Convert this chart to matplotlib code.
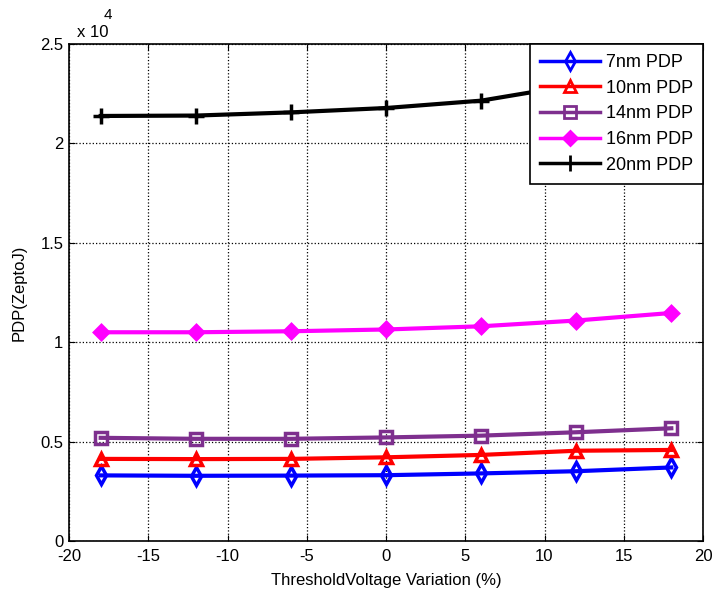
import matplotlib
matplotlib.use("Agg")
import matplotlib.pyplot as plt

plt.rcParams['font.family'] = ['Liberation Sans', 'DejaVu Sans']
plt.rcParams['axes.unicode_minus'] = False

variation = [-18, -12, -6, 0, 6, 12, 18]
pdp_7nm = [3300, 3280, 3290, 3310, 3400, 3510, 3700]
pdp_10nm = [4130, 4120, 4130, 4210, 4330, 4540, 4580]
pdp_14nm = [5190, 5140, 5140, 5210, 5300, 5470, 5670]
pdp_16nm = [10500, 10500, 10550, 10640, 10800, 11090, 11470]
pdp_20nm = [21380, 21400, 21560, 21780, 22150, 22950, 24000]

series = [
    ("7nm PDP", pdp_7nm, "#0000ff", "d", "none", 9),
    ("10nm PDP", pdp_10nm, "#ff0000", "^", "none", 9),
    ("14nm PDP", pdp_14nm, "#7e2f8e", "s", "none", 9),
    ("16nm PDP", pdp_16nm, "#ff00ff", "D", "#ff00ff", 7),
    ("20nm PDP", pdp_20nm, "#000000", "+", "none", 11),
]

fig = plt.figure(figsize=(7.13, 5.98), dpi=100)
ax = fig.add_axes([69 / 713, 57 / 598, 634 / 713, 497 / 598])

for label, vals, color, marker, mfc, ms in series:
    ax.plot(variation, [v / 1e4 for v in vals], color=color, lw=3,
            marker=marker, markerfacecolor=mfc, markeredgecolor=color,
            markeredgewidth=2.5, markersize=ms, label=label)

ax.set_xlim(-20, 20)
ax.set_ylim(0, 2.5)
ax.set_xticks(range(-20, 21, 5))
ax.set_yticks([0, 0.5, 1, 1.5, 2, 2.5])
ax.set_yticklabels(["0", "0.5", "1", "1.5", "2", "2.5"])
ax.tick_params(direction='in', labelsize=12, length=4, top=True, right=True)
ax.tick_params(axis='x', pad=6)
ax.tick_params(axis='y', pad=4)
ax.grid(True, linestyle=':', color='black', linewidth=0.9)
for s in ax.spines.values():
    s.set_linewidth(1.2)

ax.set_xlabel("ThresholdVoltage Variation (%)", fontsize=12, labelpad=6)
ax.set_ylabel("PDP(ZeptoJ)", fontsize=12, labelpad=10)
ax.text(0.013, 1.008, "x 10", transform=ax.transAxes, fontsize=12,
        ha='left', va='bottom')
ax.text(0.054, 1.045, "4", transform=ax.transAxes, fontsize=11,
        ha='left', va='bottom')

leg = ax.legend(loc='upper right', fontsize=13, frameon=True, fancybox=False,
                borderaxespad=0.0, handlelength=3.3, labelspacing=0.48,
                borderpad=0.55, handletextpad=0.35)
leg.get_frame().set_edgecolor('black')
leg.get_frame().set_linewidth(1.2)
leg.get_frame().set_alpha(1)
for line in leg.get_lines():
    line.set_linewidth(2.5)
    line.set_markeredgewidth(2)

fig.savefig("out.png", dpi=100)
